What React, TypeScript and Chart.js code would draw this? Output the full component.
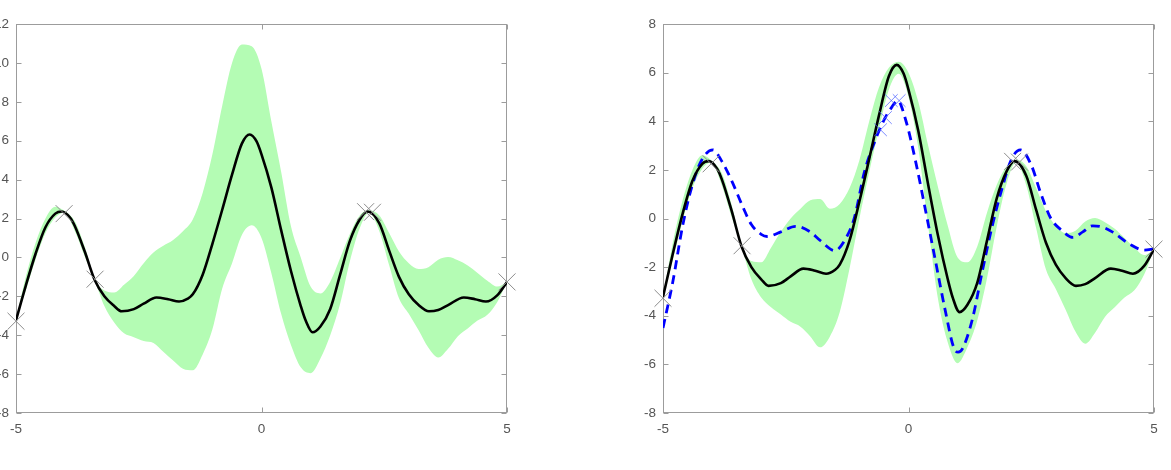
import React, { useEffect, useRef } from "react";
import { Chart, registerables } from "chart.js";

Chart.register(...registerables);

// ---- data ----
const xTicks = [-5, 0, 5];
const yTicksLeft = [-8, -6, -4, -2, 0, 2, 4, 6, 8, 10, 12];
const yTicksRight = [-8, -6, -4, -2, 0, 2, 4, 6, 8];

// posterior mean (black)
const meanX = [-5, -4.8, -4.6, -4.4, -4.2, -4.07, -3.9, -3.8, -3.6, -3.4, -3.2, -3.0, -2.85, -2.6, -2.4, -2.14, -1.9, -1.68, -1.5, -1.4, -1.2, -1.0, -0.8, -0.6, -0.4, -0.24, -0.1, 0.0, 0.2, 0.4, 0.6, 0.8, 0.9, 1.04, 1.2, 1.4, 1.6, 1.8, 2.0, 2.16, 2.4, 2.6, 2.8, 3.0, 3.2, 3.41, 3.6, 3.8, 4.12, 4.35, 4.57, 4.8, 5.0];
const meanY = [-3.23, -1.45, 0.2, 1.55, 2.25, 2.36, 2.05, 1.6, 0.3, -1.15, -2.0, -2.5, -2.77, -2.66, -2.38, -2.06, -2.15, -2.27, -2.12, -1.9, -0.9, 0.7, 2.45, 4.25, 5.85, 6.32, 5.96, 5.3, 3.6, 1.4, -0.7, -2.5, -3.25, -3.85, -3.55, -2.65, -0.9, 0.85, 1.95, 2.36, 1.75, 0.35, -1.0, -1.9, -2.45, -2.77, -2.7, -2.45, -2.06, -2.15, -2.27, -1.95, -1.26];

// confidence band (green)
const bandX = [-5, -4.8, -4.6, -4.4, -4.2, -4.02, -3.8, -3.6, -3.39, -3.2, -3.0, -2.8, -2.6, -2.4, -2.2, -2.0, -1.8, -1.6, -1.4, -1.2, -1.0, -0.8, -0.6, -0.4, -0.2, 0.0, 0.2, 0.4, 0.6, 0.8, 1.0, 1.2, 1.4, 1.6, 1.8, 2.0, 2.19, 2.4, 2.6, 2.8, 3.0, 3.2, 3.4, 3.6, 3.8, 4.0, 4.2, 4.4, 4.6, 4.8, 5.0];
const upperLeft = [-3.23, -1.0, 0.75, 2.0, 2.6, 2.4, 1.85, 0.55, -1.12, -1.7, -1.8, -1.4, -0.95, -0.3, 0.25, 0.6, 0.9, 1.35, 1.95, 3.3, 5.3, 7.8, 10.0, 10.95, 10.85, 9.7, 7.0, 4.4, 1.6, 0.0, -1.5, -1.85, -1.25, -0.05, 1.2, 2.15, 2.42, 2.15, 1.25, 0.3, -0.3, -0.6, -0.5, -0.12, 0.02, -0.15, -0.42, -0.8, -1.2, -1.5, -1.26];
const lowerLeft = [-3.23, -1.7, -0.1, 1.25, 2.05, 2.3, 1.35, 0.05, -1.22, -2.5, -3.35, -3.9, -4.1, -4.3, -4.4, -4.85, -5.3, -5.72, -5.8, -5.0, -3.7, -1.6, -0.3, 1.15, 1.65, 1.0, -0.8, -2.9, -4.5, -5.65, -5.95, -5.2, -4.0, -2.4, -0.2, 1.5, 2.3, 1.35, -0.4, -2.1, -2.9, -3.75, -4.65, -5.15, -4.7, -4.05, -3.65, -3.25, -2.95, -2.3, -1.26];
const upperRight = [-3.23, -1.0, 0.75, 2.0, 2.6, 2.4, 1.85, 0.55, -1.12, -1.75, -1.8, -1.2, -0.55, 0.0, 0.4, 0.75, 0.8, 0.4, 0.6, 1.25, 2.4, 4.0, 5.4, 6.2, 6.45, 6.0, 4.8, 3.0, 1.3, -0.3, -1.6, -1.8, -1.15, 0.25, 1.4, 2.15, 2.42, 2.15, 1.25, 0.3, -0.3, -0.6, -0.5, -0.12, 0.02, -0.15, -0.42, -0.8, -1.2, -1.5, -1.26];
const lowerRight = [-3.23, -1.7, -0.1, 1.25, 2.05, 2.3, 1.35, 0.05, -1.22, -2.5, -3.25, -3.65, -3.95, -4.25, -4.45, -4.85, -5.3, -4.85, -3.85, -2.05, 0.0, 1.9, 3.7, 5.3, 5.95, 5.0, 2.9, -0.3, -3.3, -5.1, -5.95, -5.3, -4.2, -2.45, -0.3, 1.45, 2.3, 1.35, -0.4, -2.1, -2.9, -3.75, -4.65, -5.15, -4.7, -4.05, -3.65, -3.25, -2.95, -2.3, -1.26];

// blue dashed curve (right panel)
const dashX = [-5.0, -4.8, -4.6, -4.4, -4.2, -3.98, -3.8, -3.6, -3.4, -3.2, -3.0, -2.88, -2.6, -2.3, -2.0, -1.8, -1.5, -1.3, -1.1, -0.9, -0.7, -0.5, -0.35, -0.22, -0.05, 0.15, 0.35, 0.55, 0.75, 0.92, 1.01, 1.1, 1.3, 1.5, 1.7, 1.9, 2.1, 2.28, 2.5, 2.7, 2.9, 3.1, 3.35, 3.55, 3.75, 3.95, 4.15, 4.5, 4.8, 5.0];
const dashY = [-4.5, -2.6, -0.3, 1.4, 2.45, 2.82, 2.35, 1.55, 0.6, -0.25, -0.65, -0.74, -0.55, -0.32, -0.55, -0.9, -1.32, -0.9, 0.05, 1.9, 3.1, 4.05, 4.55, 4.85, 4.0, 2.3, 0.3, -1.75, -3.8, -5.3, -5.5, -5.35, -4.15, -2.2, -0.35, 1.2, 2.45, 2.82, 2.2, 1.0, 0.0, -0.45, -0.78, -0.55, -0.3, -0.35, -0.55, -1.05, -1.3, -1.25];

// observations (grey crosses) and new observations (blue crosses)
const obsX = [-5, -4.02, -3.39, 2.12, 2.26, 5];
const obsY = [-3.28, 2.25, -1.12, 2.35, 2.32, -1.26];
const newX = [-0.57, -0.47, -0.35, -0.19];
const newY = [3.65, 4.15, 4.85, 4.85];

// ---- styling ----
const GREEN = "rgb(180, 252, 180)";
const FRAME = "#9c9c9c";
const TEXT = "#555555";
const FONT = { family: "'Liberation Sans', Arial, sans-serif", size: 13.5 };

const pts = (xs: number[], ys: number[]) => xs.map((x, i) => ({ x, y: ys[i] }));

const framePlugin = {
  id: "octaveFrame",
  beforeDatasetsDraw(chart: any) {
    const { ctx, chartArea: a } = chart;
    const xs = chart.scales.x;
    const ys = chart.scales.y;
    const L = Math.round(a.left) + 0.5;
    const R = Math.round(a.right) - 0.5;
    const T = Math.round(a.top) + 0.5;
    const B = Math.round(a.bottom) - 0.5;
    ctx.save();
    ctx.strokeStyle = FRAME;
    ctx.lineWidth = 1;
    ctx.strokeRect(L, T, R - L, B - T);
    ctx.beginPath();
    ys.ticks.forEach((t: any) => {
      const p = Math.round(ys.getPixelForValue(t.value)) + 0.5;
      ctx.moveTo(L, p);
      ctx.lineTo(L + 5, p);
      ctx.moveTo(R, p);
      ctx.lineTo(R - 5, p);
    });
    xs.ticks.forEach((t: any) => {
      const p = Math.round(xs.getPixelForValue(t.value)) + 0.5;
      ctx.moveTo(p, T);
      ctx.lineTo(p, T + 5);
      ctx.moveTo(p, B);
      ctx.lineTo(p, B - 5);
    });
    ctx.stroke();
    ctx.restore();
  },
};

type Spec = {
  upper: number[];
  lower: number[];
  withDash: boolean;
  yMin: number;
  yMax: number;
  yTicks: number[];
  yWidth: number;
  padRight: number;
};

function buildConfig(s: Spec): any {
  const datasets: any[] = [];
  if (s.withDash) {
    datasets.push({
      label: "new",
      data: pts(newX, newY),
      showLine: false,
      pointStyle: "crossRot",
      pointRadius: 9,
      pointBorderColor: "rgba(80,100,255,0.75)",
      pointBackgroundColor: "transparent",
      pointBorderWidth: 1,
      clip: false,
    });
  }
  datasets.push({
    label: "obs",
    data: pts(obsX, obsY),
    showLine: false,
    pointStyle: "crossRot",
    pointRadius: 12,
    pointBorderColor: "#8c8c8c",
    pointBackgroundColor: "transparent",
    pointBorderWidth: 1,
    clip: false,
  });
  datasets.push({
    label: "mean",
    data: pts(meanX, meanY),
    borderColor: "#000000",
    borderWidth: 2.6,
    pointRadius: 0,
    cubicInterpolationMode: "monotone",
    fill: false,
  });
  if (s.withDash) {
    datasets.push({
      label: "dash",
      data: pts(dashX, dashY),
      borderColor: "#0000ff",
      borderWidth: 2.8,
      borderDash: [9, 6],
      pointRadius: 0,
      cubicInterpolationMode: "monotone",
      fill: false,
    });
  }
  datasets.push({
    label: "upper",
    data: pts(bandX, s.upper),
    borderWidth: 0,
    borderColor: "rgba(0,0,0,0)",
    pointRadius: 0,
    cubicInterpolationMode: "monotone",
    fill: false,
  });
  datasets.push({
    label: "lower",
    data: pts(bandX, s.lower),
    borderWidth: 0,
    borderColor: "rgba(0,0,0,0)",
    pointRadius: 0,
    cubicInterpolationMode: "monotone",
    fill: "-1",
    backgroundColor: GREEN,
  });

  return {
    type: "line",
    data: { datasets },
    plugins: [framePlugin],
    options: {
      animation: false,
      responsive: false,
      events: [],
      layout: { padding: { top: 24, right: s.padRight, left: 0, bottom: 0 } },
      plugins: { legend: { display: false }, tooltip: { enabled: false } },
      scales: {
        x: {
          type: "linear",
          min: -5,
          max: 5,
          grid: { display: false, drawTicks: false },
          border: { display: false },
          afterBuildTicks: (sc: any) => {
            sc.ticks = xTicks.map((v) => ({ value: v }));
          },
          afterFit: (sc: any) => {
            sc.height = 57;
          },
          ticks: { color: TEXT, font: FONT, padding: 8, maxRotation: 0, autoSkip: false },
        },
        y: {
          type: "linear",
          min: s.yMin,
          max: s.yMax,
          grid: { display: false, drawTicks: false },
          border: { display: false },
          afterBuildTicks: (sc: any) => {
            sc.ticks = s.yTicks.map((v) => ({ value: v }));
          },
          afterFit: (sc: any) => {
            sc.width = s.yWidth;
          },
          ticks: { color: TEXT, font: FONT, padding: 7, autoSkip: false },
        },
      },
    },
  };
}

const specLeft: Spec = {
  upper: upperLeft,
  lower: lowerLeft,
  withDash: false,
  yMin: -8,
  yMax: 12,
  yTicks: yTicksLeft,
  yWidth: 40,
  padRight: 12,
};

const specRight: Spec = {
  upper: upperRight,
  lower: lowerRight,
  withDash: true,
  yMin: -8,
  yMax: 8,
  yTicks: yTicksRight,
  yWidth: 43,
  padRight: 17,
};

function GPChart({ spec, left, width }: { spec: Spec; left: number; width: number }) {
  const ref = useRef<HTMLCanvasElement>(null);
  useEffect(() => {
    if (!ref.current) return;
    const chart = new Chart(ref.current, buildConfig(spec));
    return () => chart.destroy();
  }, [spec]);
  return (
    <canvas
      ref={ref}
      width={width}
      height={470}
      style={{ position: "absolute", left, top: 0, width, height: 470 }}
    />
  );
}

export default function App() {
  return (
    <div
      style={{
        position: "fixed",
        left: 0,
        top: 0,
        width: 1171,
        height: 470,
        overflow: "hidden",
        background: "#ffffff",
      }}
    >
      <GPChart spec={specLeft} left={-24} width={544} />
      <GPChart spec={specRight} left={620} width={551} />
    </div>
  );
}
